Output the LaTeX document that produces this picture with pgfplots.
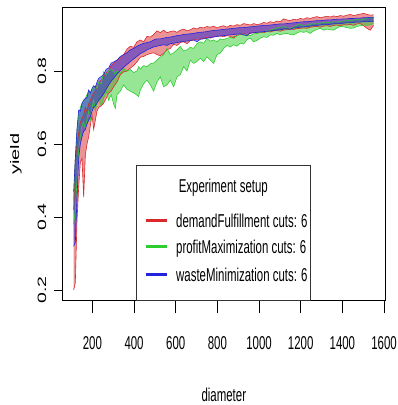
\documentclass[border=0pt]{standalone}
\usepackage{fontspec}
\setmainfont{Liberation Sans}[FakeStretch=0.615]
\newfontfamily\plainsans{Liberation Sans}
\usepackage{pgfplots}
\pgfplotsset{compat=1.18}
\usepgfplotslibrary{fillbetween}
\usepackage{pgfplotstable}
\definecolor{redC}{RGB}{218,40,45}
\definecolor{greenC}{RGB}{45,205,45}
\definecolor{blueC}{RGB}{35,35,220}

\pgfplotstableread{
x lo hi
110 0.200 0.420
118 0.220 0.560
126 0.390 0.600
134 0.480 0.630
142 0.550 0.660
150 0.560 0.670
158 0.455 0.680
166 0.570 0.700
174 0.600 0.690
182 0.620 0.710
190 0.650 0.720
198 0.680 0.730
206 0.640 0.740
214 0.665 0.745
222 0.690 0.760
230 0.700 0.770
242 0.705 0.775
254 0.712 0.785
266 0.725 0.795
278 0.740 0.800
290 0.745 0.815
302 0.757 0.820
318 0.770 0.830
334 0.790 0.835
350 0.798 0.845
366 0.800 0.860
382 0.808 0.868
398 0.815 0.865
414 0.825 0.880
430 0.838 0.885
446 0.840 0.880
462 0.845 0.895
478 0.848 0.893
494 0.850 0.900
510 0.845 0.910
526 0.842 0.905
542 0.848 0.912
558 0.858 0.905
574 0.862 0.908
590 0.873 0.910
606 0.870 0.906
622 0.878 0.912
638 0.880 0.915
654 0.875 0.910
670 0.883 0.913
686 0.885 0.918
702 0.887 0.915
718 0.888 0.920
734 0.890 0.918
750 0.892 0.922
766 0.890 0.920
782 0.894 0.923
798 0.895 0.918
814 0.896 0.922
830 0.894 0.924
846 0.897 0.920
862 0.895 0.925
878 0.890 0.923
894 0.898 0.927
910 0.900 0.925
926 0.902 0.930
942 0.900 0.928
958 0.903 0.926
974 0.905 0.930
990 0.904 0.927
1006 0.906 0.929
1022 0.905 0.933
1038 0.908 0.931
1054 0.907 0.935
1070 0.910 0.933
1086 0.911 0.937
1102 0.909 0.935
1118 0.912 0.943
1134 0.913 0.940
1150 0.915 0.938
1166 0.914 0.942
1182 0.916 0.940
1198 0.917 0.944
1214 0.918 0.942
1230 0.917 0.946
1246 0.920 0.944
1262 0.921 0.947
1278 0.922 0.949
1294 0.920 0.946
1310 0.923 0.948
1326 0.924 0.950
1342 0.922 0.948
1358 0.925 0.951
1374 0.926 0.949
1390 0.924 0.952
1406 0.927 0.950
1422 0.926 0.953
1438 0.928 0.955
1454 0.925 0.952
1470 0.929 0.954
1486 0.930 0.956
1502 0.924 0.958
1518 0.917 0.955
1534 0.912 0.953
1550 0.925 0.954
}\redtab

\pgfplotstableread{
x lo hi
110 0.380 0.450
118 0.420 0.560
126 0.500 0.640
134 0.580 0.680
142 0.620 0.700
150 0.650 0.712
158 0.660 0.718
166 0.640 0.725
174 0.670 0.735
182 0.690 0.745
190 0.665 0.740
198 0.700 0.748
206 0.720 0.755
214 0.690 0.760
222 0.715 0.752
230 0.720 0.770
242 0.705 0.765
254 0.725 0.798
266 0.745 0.790
278 0.720 0.800
290 0.735 0.805
302 0.710 0.798
310 0.698 0.790
318 0.735 0.800
334 0.745 0.795
350 0.762 0.807
366 0.750 0.800
382 0.745 0.804
398 0.740 0.796
414 0.734 0.800
422 0.730 0.812
430 0.748 0.805
446 0.765 0.815
462 0.775 0.812
478 0.762 0.820
494 0.745 0.822
510 0.770 0.830
526 0.784 0.838
542 0.757 0.845
558 0.762 0.862
574 0.775 0.845
590 0.757 0.850
606 0.784 0.858
622 0.790 0.867
638 0.812 0.855
654 0.800 0.858
670 0.830 0.865
686 0.821 0.862
702 0.826 0.875
718 0.835 0.880
734 0.826 0.876
750 0.839 0.889
766 0.830 0.882
782 0.821 0.885
798 0.845 0.880
814 0.849 0.888
830 0.862 0.886
846 0.870 0.890
862 0.866 0.892
878 0.872 0.894
894 0.868 0.896
910 0.876 0.902
926 0.874 0.898
942 0.886 0.900
958 0.890 0.897
974 0.880 0.902
990 0.884 0.903
1006 0.890 0.906
1022 0.894 0.907
1038 0.892 0.910
1054 0.899 0.912
1070 0.898 0.915
1086 0.903 0.918
1102 0.899 0.920
1118 0.902 0.922
1134 0.903 0.918
1150 0.900 0.917
1166 0.899 0.921
1182 0.904 0.925
1198 0.908 0.928
1214 0.906 0.922
1230 0.908 0.926
1246 0.903 0.928
1262 0.910 0.930
1278 0.914 0.929
1294 0.917 0.931
1310 0.912 0.933
1326 0.915 0.932
1342 0.913 0.934
1358 0.912 0.935
1374 0.918 0.934
1390 0.922 0.936
1406 0.921 0.937
1422 0.919 0.939
1438 0.917 0.938
1454 0.918 0.940
1470 0.922 0.941
1486 0.924 0.940
1502 0.926 0.942
1518 0.925 0.945
1534 0.927 0.947
1550 0.930 0.946
}\greentab

\pgfplotstableread{
x lo hi
110 0.320 0.470
118 0.330 0.560
126 0.450 0.640
134 0.560 0.693
142 0.600 0.690
150 0.620 0.711
158 0.635 0.720
166 0.640 0.725
174 0.655 0.728
182 0.665 0.748
190 0.675 0.740
198 0.690 0.752
206 0.700 0.760
214 0.705 0.755
222 0.712 0.770
230 0.720 0.780
242 0.728 0.785
254 0.738 0.790
266 0.750 0.805
278 0.762 0.808
290 0.772 0.822
302 0.780 0.825
318 0.792 0.830
334 0.802 0.840
350 0.810 0.845
366 0.818 0.850
382 0.826 0.858
398 0.833 0.862
414 0.840 0.868
430 0.848 0.872
446 0.852 0.876
462 0.858 0.878
478 0.862 0.880
494 0.866 0.885
510 0.868 0.888
526 0.870 0.888
542 0.872 0.890
558 0.870 0.892
574 0.875 0.893
590 0.876 0.895
606 0.878 0.897
622 0.880 0.898
638 0.881 0.900
654 0.882 0.901
670 0.884 0.902
686 0.885 0.903
702 0.880 0.905
718 0.887 0.906
734 0.888 0.907
750 0.890 0.908
766 0.892 0.910
782 0.893 0.911
798 0.895 0.912
814 0.896 0.913
830 0.897 0.914
846 0.898 0.915
862 0.899 0.916
878 0.900 0.917
894 0.901 0.918
910 0.902 0.919
926 0.899 0.919
942 0.897 0.920
958 0.904 0.921
974 0.905 0.922
990 0.906 0.923
1006 0.907 0.924
1022 0.908 0.925
1038 0.909 0.925
1054 0.910 0.926
1070 0.911 0.927
1086 0.912 0.928
1102 0.913 0.929
1118 0.915 0.929
1134 0.916 0.930
1150 0.914 0.931
1166 0.918 0.932
1182 0.919 0.933
1198 0.920 0.934
1214 0.921 0.935
1230 0.922 0.935
1246 0.923 0.936
1262 0.924 0.937
1278 0.925 0.938
1294 0.926 0.938
1310 0.927 0.939
1326 0.927 0.940
1342 0.928 0.940
1358 0.929 0.941
1374 0.930 0.942
1390 0.930 0.942
1406 0.931 0.943
1422 0.932 0.943
1438 0.932 0.944
1454 0.933 0.944
1470 0.934 0.945
1486 0.934 0.945
1502 0.935 0.946
1518 0.935 0.946
1534 0.936 0.947
1550 0.936 0.947
}\bluetab

\begin{document}
\begin{tikzpicture}
\begin{axis}[
  at={(0pt,0pt)}, anchor=south west,
  scale only axis, width=323.7pt, height=293.2pt,
  xmin=54, xmax=1608, ymin=0.171, ymax=0.974,
  axis line style={line width=0.8pt},
  tick pos=left, tick align=outside,
  tick style={black, line width=0.8pt},
  major tick length=10pt,
  xtick style={/pgfplots/major tick length=12.5pt},
  ytick style={/pgfplots/major tick length=8pt},
  xtick={200,400,600,800,1000,1200,1400,1600},
  xticklabels={200,400,600,800,1000,1200,1400,1600},
  ytick={0.2,0.4,0.6,0.8},
  yticklabels={\scalebox{1}[0.62]{0.2},\scalebox{1}[0.62]{0.4},\scalebox{1}[0.62]{0.6},\scalebox{1}[0.62]{0.8}},
  xticklabel shift=32pt,
  yticklabel shift=10pt,
  xticklabel style={font=\fontsize{18.6}{20}\selectfont, anchor=center, inner sep=0pt},
  yticklabel style={font=\plainsans\fontsize{19.5}{20}\selectfont, rotate=90, anchor=center, inner sep=0pt},
  xlabel={diameter},
  ylabel={\scalebox{1}[0.62]{\plainsans\fontsize{20}{22}\selectfont yield}},
  xlabel style={at={([yshift=-94pt]axis description cs:0.5,0)}, anchor=center, font=\fontsize{18.6}{20}\selectfont},
  ylabel style={at={([xshift=-46pt]axis description cs:0,0.5)}, anchor=center},
]
\addplot[draw=redC, line width=0.6pt, name path=rl] table[x=x,y=lo]{\redtab};
\addplot[draw=redC, line width=0.6pt, name path=rh] table[x=x,y=hi]{\redtab};
\addplot[fill=redC, fill opacity=0.5, draw=none] fill between[of=rl and rh];
\addplot[draw=greenC, line width=0.6pt, name path=gl] table[x=x,y=lo]{\greentab};
\addplot[draw=greenC, line width=0.6pt, name path=gh] table[x=x,y=hi]{\greentab};
\addplot[fill=greenC, fill opacity=0.5, draw=none] fill between[of=gl and gh];
\addplot[draw=blueC, line width=0.6pt, name path=bl] table[x=x,y=lo]{\bluetab};
\addplot[draw=blueC, line width=0.6pt, name path=bh] table[x=x,y=hi]{\bluetab};
\addplot[fill=blueC, fill opacity=0.5, draw=none] fill between[of=bl and bh];
\end{axis}
% legend
\draw[black!80, line width=0.8pt, fill=white] (74pt,0pt) rectangle (248.7pt,135.7pt);
\node[inner sep=0pt, anchor=base, font=\fontsize{18.6}{20}\selectfont] at (161.3pt,108pt) {Experiment setup};
\draw[redC, line width=3pt] (84pt,80.7pt) -- (104.7pt,80.7pt);
\node[inner sep=0pt, anchor=base west, font=\fontsize{18.6}{20}\selectfont] at (114pt,73.7pt) {demandFulfillment cuts: 6};
\draw[greenC, line width=3pt] (84pt,54pt) -- (104.7pt,54pt);
\node[inner sep=0pt, anchor=base west, font=\fontsize{18.6}{20}\selectfont] at (114pt,47pt) {profitMaximization cuts: 6};
\draw[blueC, line width=3pt] (84pt,26.7pt) -- (104.7pt,26.7pt);
\node[inner sep=0pt, anchor=base west, font=\fontsize{18.6}{20}\selectfont] at (114pt,19.7pt) {wasteMinimization cuts: 6};
\path (-62pt,-104.3pt) (336pt,300.7pt);
\end{tikzpicture}
\end{document}
